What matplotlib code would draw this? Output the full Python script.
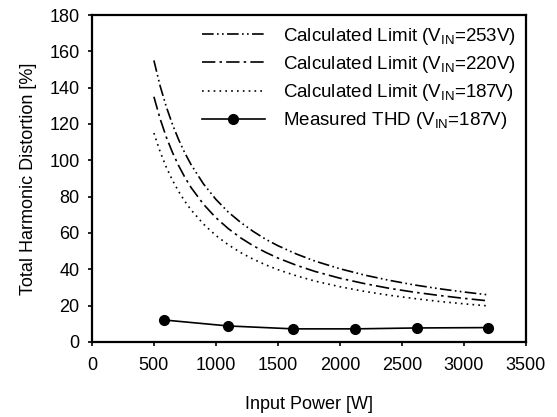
import matplotlib
matplotlib.use("Agg")
import matplotlib.pyplot as plt

plt.rcParams['font.family'] = ['Liberation Sans', 'DejaVu Sans']
plt.rcParams['mathtext.default'] = 'regular'

# Calculated limit curves
p_calc = [500, 550, 600, 650, 700, 750, 800, 900, 1000, 1100, 1200, 1300, 1400,
          1500, 1650, 1800, 2000, 2200, 2400, 2600, 2800, 3000, 3200]
thd_253 = [155, 141, 129.5, 119.7, 111.3, 104, 97.6, 87, 78.5, 71.5, 65.8, 60.9, 56.6,
           53, 48.4, 44.5, 40.3, 36.8, 33.9, 31.4, 29.3, 27.5, 25.9]
thd_220 = [135, 122.9, 112.8, 104.3, 97, 90.6, 85, 75.8, 68.4, 62.4, 57.3, 53, 49.4,
           46.2, 42.2, 38.8, 35.1, 32.1, 29.5, 27.4, 25.6, 24, 22.6]
thd_187 = [115, 104.8, 96.2, 89, 82.8, 77.4, 72.7, 64.9, 58.6, 53.5, 49.2, 45.6, 42.5,
           39.8, 36.4, 33.5, 30.4, 27.8, 25.7, 23.9, 22.3, 21, 19.8]

# Measured THD
p_meas = [580, 1100, 1625, 2125, 2625, 3195]
thd_meas = [12.1, 8.8, 7.2, 7.2, 7.7, 7.9]

x_ticks = [0, 500, 1000, 1500, 2000, 2500, 3000, 3500]
y_ticks = [0, 20, 40, 60, 80, 100, 120, 140, 160, 180]

fig = plt.figure(figsize=(5.57, 4.17), dpi=100)
ax = fig.add_axes([0.165, 0.18, 0.779, 0.784])

ax.plot(p_calc, thd_253, color='black', lw=1.2, linestyle=(0, (7, 2, 1, 2, 1, 2)),
        label='Calculated Limit (V$_{IN}$=253V)')
ax.plot(p_calc, thd_220, color='black', lw=1.2, linestyle=(0, (8, 2.5, 1.5, 2.5)),
        label='Calculated Limit (V$_{IN}$=220V)')
ax.plot(p_calc, thd_187, color='black', lw=1.2, linestyle=(0, (1, 2.5)),
        label='Calculated Limit (V$_{IN}$=187V)')
ax.plot(p_meas, thd_meas, color='black', lw=1.2, marker='o', markersize=7,
        label='Measured THD (V$_{IN}$=187V)')

ax.set_xlim(0, 3500)
ax.set_ylim(0, 180)
ax.set_xticks(x_ticks)
ax.set_yticks(y_ticks)
ax.tick_params(labelsize=13, direction='out', length=3, width=1.2)
ax.tick_params(axis='x', pad=8)
ax.tick_params(axis='y', pad=6)
for s in ax.spines.values():
    s.set_linewidth(1.6)

ax.set_xlabel('Input Power [W]', fontsize=13, labelpad=16)
ax.set_ylabel('Total Harmonic Distortion [%]', fontsize=13, labelpad=9)

ax.legend(loc='upper right', bbox_to_anchor=(1.008, 1.008), frameon=False, fontsize=13.5,
          handlelength=3.4, handletextpad=0.95, labelspacing=0.39, borderaxespad=0.3)

fig.savefig('out.png', dpi=100)
